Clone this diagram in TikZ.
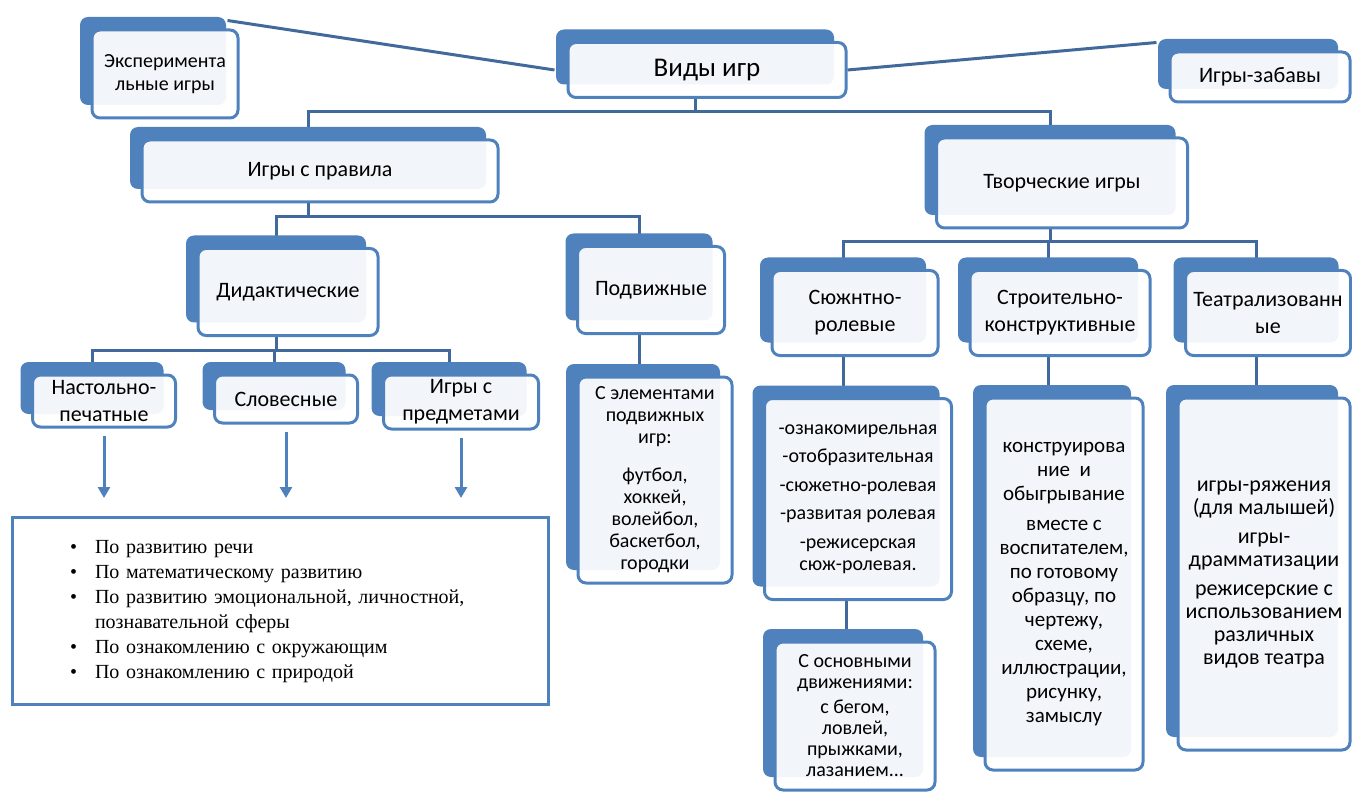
\documentclass[tikz,border=0pt]{standalone}
\usepackage{fontspec}
\setmainfont{Carlito}
\newfontfamily\timesru{Liberation Serif}
\usepackage{tikz}
\usetikzlibrary{arrows.meta,shadows,backgrounds}

\definecolor{boxblue}{HTML}{4F81BD}
\definecolor{linkblue}{HTML}{41699B}
\newcommand{\sz}[2]{\fontsize{#1}{#2}\selectfont}

\begin{document}
\begin{tikzpicture}[x=1pt,y=-1pt,>={Triangle[length=11pt,width=12pt]},
    game box/.style={draw=boxblue,line width=3pt,rounded corners=8pt,fill=white,
      fill opacity=0.93,text opacity=1,align=center,inner sep=2pt,
      general shadow={fill=boxblue,fill opacity=1,shadow xshift=-12pt,shadow yshift=13pt}},
    big text/.style={font=\sz{22}{27}},
    link/.style={draw=linkblue,line width=3pt},
    down arrow/.style={draw=boxblue,line width=3pt,->,shorten <=7pt,shorten >=18pt}]
  \useasboundingbox (0,0) rectangle (1352,794);

  % top row
  \node[game box,minimum width=278,minimum height=55,font=\sz{27}{32}] (vid) at (707,70) {Виды игр};
  \node[game box,minimum width=146,minimum height=88,font=\sz{20}{23}] (eks) at (165,74) {Эксперимента\\льные игры};
  \node[game box,big text,minimum width=180,minimum height=50] (zab) at (1260,77) {Игры-забавы};

  \node[game box,big text,minimum width=356,minimum height=62] (prav) at (320,171) {Игры с правила};
  \node[game box,big text,minimum width=251,minimum height=90] (tvor) at (1062,183) {Творческие игры};

  % games with rules
  \node[game box,big text,minimum width=180,minimum height=87] (did) at (288,292) {Дидактические};
  \node[game box,big text,minimum width=147,minimum height=87] (pod) at (651,290) {Подвижные};
  \node[game box,big text,minimum width=143,minimum height=52] (nast) at (104,401) {Настольно-\\печатные};
  \node[game box,big text,minimum width=143,minimum height=48] (slov) at (286,399) {Словесные};
  \node[game box,big text,minimum width=155,minimum height=54] (pred) at (461,402) {Игры с\\предметами};
  \node[game box,font=\sz{20}{22},minimum width=154,minimum height=206] (elem) at (655,480)
    {С элементами\\подвижных\\игр:\\[16pt]футбол,\\хоккей,\\волейбол,\\баскетбол,\\городки};

  \node[draw=boxblue,line width=3pt,minimum width=536,minimum height=187,text width=420,
    inner xsep=58,font=\timesru\sz{20}{25}] (lst) at (280,611) {%
    \begin{tabular}{@{}l@{\hspace{18pt}}l@{}}
      \textbullet & По развитию речи\\
      \textbullet & По математическому развитию\\
      \textbullet & По развитию эмоциональной, личностной,\\
                  & познавательной сферы\\
      \textbullet & По ознакомлению с окружающим\\
      \textbullet & По ознакомлению с природой
    \end{tabular}};

  % creative games
  \node[game box,big text,minimum width=166,minimum height=85] (sjuz) at (855,313) {Сюжнтно-\\ролевые};
  \node[game box,big text,minimum width=180,minimum height=85] (stroi) at (1060,313) {Строительно-\\конструктивные};
  \node[game box,big text,minimum width=165,minimum height=85] (teatr) at (1268,313) {Театрализованн\\ые};
  \node[game box,font=\sz{20}{22},minimum width=187,minimum height=201] (oznak) at (858,499)
    {-ознакомирельная\\[6.5pt]-отобразительная\\[6.5pt]-сюжетно-ролевая\\[6.5pt]-развитая ролевая\\[6.5pt]-режисерская\\сюж-ролевая.};
  \node[game box,font=\sz{20}{21},minimum width=160,minimum height=148] (osn) at (855,716)
    {С основными\\движениями:\\[4pt]с бегом,\\ловлей,\\прыжками,\\лазанием...};
  \node[game box,font=\sz{21}{24},minimum width=158,minimum height=372] (constr) at (1064,584)
    {конструирова\\ние\ \ и\\обыгрывание\\[6pt]вместе с\\воспитателем,\\по готовому\\образцу, по\\чертежу,\\схеме,\\иллюстрации,\\рисунку,\\замыслу};
  \node[game box,font=\sz{22}{23},minimum width=172,minimum height=352] (igry) at (1264,574)
    {игры-ряжения\\(для малышей)\\[6pt]игры-\\драмматизации\\[6pt]режисерские с\\использованием\\различных\\видов театра};

  % connectors behind the boxes
  \begin{scope}[on background layer]
    \draw[link] ([xshift=-12pt,yshift=8pt]eks.north east) -- ([xshift=-12pt]vid.west);
    \draw[link] (vid.east) -- ([xshift=-12pt,yshift=8pt]zab.north west);
    \draw[link] ([xshift=-12pt]vid.south) -- ++(0,13) -| ([xshift=-12pt]prav.north);
    \draw[link] ([xshift=-12pt]vid.south) -- ++(0,13) -| ([xshift=-12pt]tvor.north);
    \draw[link] ([xshift=-12pt]prav.south) -- ++(0,13) -| ([xshift=-12pt]did.north);
    \draw[link] ([xshift=-12pt]prav.south) -- ++(0,13) -| ([xshift=-12pt]pod.north);
    \draw[link] ([xshift=-12pt]did.south) -- ++(0,13) -| ([xshift=-12pt]nast.north);
    \draw[link] ([xshift=-12pt]did.south) -- ++(0,13) -| ([xshift=-12pt]slov.north);
    \draw[link] ([xshift=-12pt]did.south) -- ++(0,13) -| ([xshift=-12pt]pred.north);
    \draw[link] ([xshift=-12pt]pod.south) -- ([xshift=-12pt]pod.south |- elem.north);
    \draw[link] ([xshift=-12pt]tvor.south) -- ++(0,12) -| ([xshift=-12pt]sjuz.north);
    \draw[link] ([xshift=-12pt]tvor.south) -- ++(0,12) -| ([xshift=-12pt]stroi.north);
    \draw[link] ([xshift=-12pt]tvor.south) -- ++(0,12) -| ([xshift=-12pt]teatr.north);
    \draw[link] ([xshift=-12pt]sjuz.south) -- ([xshift=-12pt]sjuz.south |- oznak.north);
    \draw[link] ([xshift=-12pt]oznak.south) -- ([xshift=-12pt]oznak.south |- osn.north);
    \draw[link] ([xshift=-12pt]stroi.south) -- ([xshift=-12pt]stroi.south |- constr.north);
    \draw[link] ([xshift=-12pt]teatr.south) -- ([xshift=-12pt]teatr.south |- igry.north);
  \end{scope}

  \draw[down arrow] (nast.south) -- (nast.south |- lst.north);
  \draw[down arrow] (slov.south) -- (slov.south |- lst.north);
  \draw[down arrow] (pred.south) -- (pred.south |- lst.north);
\end{tikzpicture}
\end{document}
